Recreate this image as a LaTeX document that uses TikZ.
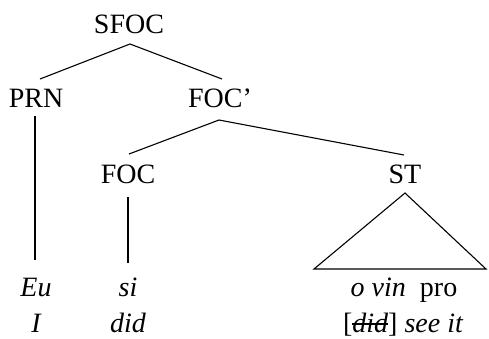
\documentclass[tikz,border=0pt]{standalone}
\usepackage{fontspec}
\setmainfont{Liberation Serif}
\newcommand\strk[1]{\setbox0\hbox{#1}\rlap{\rule[0.24em]{\wd0}{0.07em}}\box0}
\begin{document}
\begin{tikzpicture}[x=1pt,y=-1pt,
  lbl/.style={anchor=base,inner sep=0pt,font=\fontsize{28}{30}\selectfont},
  edge/.style={line width=1.1pt}]
\useasboundingbox (0,0) rectangle (489,338);
% labels
\node[lbl] (sfoc) at (129,33) {SFOC};
\node[lbl] (prn) at (36,107) {PRN};
\node[lbl] (focbar) at (220,107) {FOC’};
\node[lbl] (foc) at (128,183) {FOC};
\node[lbl] (st) at (405,183) {ST};
\node[lbl] (eu) at (36,296) {\itshape Eu};
\node[lbl] (i) at (36,332) {\itshape I};
\node[lbl] (si) at (128,296) {\itshape si};
\node[lbl] (did) at (128,332) {\itshape did};
\node[lbl] (ovin) at (404,296) {\itshape o vin\/\upshape\ \ pro};
\node[lbl] (seeit) at (403,332) {[\strk{\itshape did}\/]\ \itshape see it};
% connector points
\coordinate (sfocB) at (130,44);
\coordinate (prnT) at (40,79);
\coordinate (focbarT) at (222,79);
\coordinate (focbarB) at (219,120);
\coordinate (focT) at (129,154);
\coordinate (stT) at (404,155);
\coordinate (prnB) at (35,116);
\coordinate (euT) at (35,260);
\coordinate (focB) at (128,197);
\coordinate (siT) at (128,263);
\coordinate (stB) at (405,193);
\coordinate (triL) at (314,269);
\coordinate (triR) at (486,269);
% connectors
\draw[edge] (prnT) -- (sfocB) -- (focbarT);
\draw[edge] (focT) -- (focbarB) -- (stT);
\draw[edge] (prnB) -- (euT);
\draw[edge] (focB) -- (siT);
\draw[edge] (stB) -- (triL) -- (triR) -- cycle;
\end{tikzpicture}
\end{document}
